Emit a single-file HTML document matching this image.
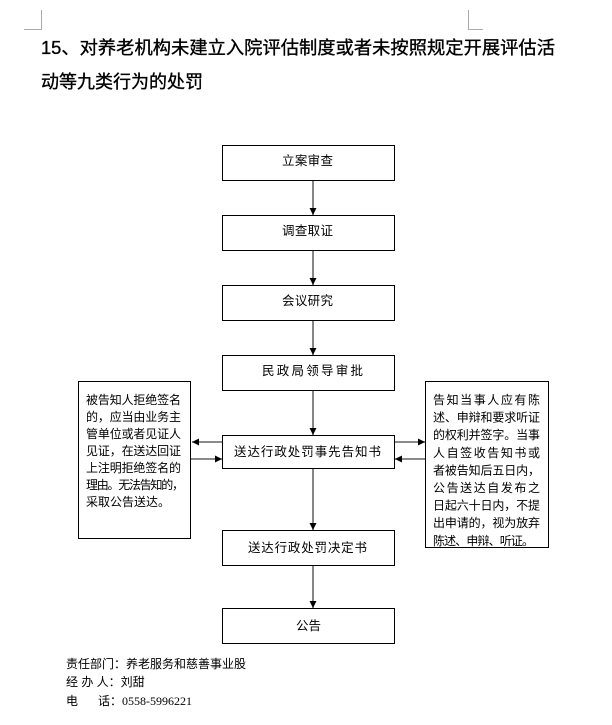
<!DOCTYPE html>
<html><head><meta charset="utf-8"><style>
body{margin:0;background:#fff;width:612px;height:725px;overflow:hidden}
svg{display:block}
text{font-family:"Liberation Sans","Noto Sans CJK SC",sans-serif;fill:#000}
</style></head><body>
<svg width="612" height="725" viewBox="0 0 612 725" xmlns="http://www.w3.org/2000/svg">
<defs><marker id="a" markerWidth="8" markerHeight="8" refX="7" refY="4" orient="auto" markerUnits="userSpaceOnUse"><path d="M0,0.5 L7,4 L0,7.5 z" fill="#000"/></marker></defs>
<g stroke="#aaa" stroke-width="1" fill="none">
<path d="M41.5,10 V29.5 H24"/><path d="M468.5,10 V29.5 H483"/>
</g>
<g font-size="18" stroke="#000" stroke-width="0.35">
<text x="41" y="54" textLength="514" lengthAdjust="spacingAndGlyphs">15、对养老机构未建立入院评估制度或者未按照规定开展评估活</text>
<text x="41" y="88">动等九类行为的处罚</text>
</g>
<g fill="none" stroke="#000" stroke-width="1">
<rect x="222.5" y="145.5" width="172" height="35"/>
<rect x="222.5" y="215.5" width="172" height="35"/>
<rect x="222.5" y="285.5" width="172" height="35"/>
<rect x="222.5" y="355.5" width="172" height="35"/>
<rect x="222.5" y="435.5" width="172" height="33"/>
<rect x="222.5" y="530.5" width="172" height="35"/>
<rect x="222.5" y="608.5" width="172" height="35"/>
<rect x="78.5" y="381.5" width="112" height="157"/>
<rect x="425.5" y="381.5" width="123" height="166"/>
</g>
<g stroke="#444" stroke-width="1.3" marker-end="url(#a)">
<line x1="313" y1="181" x2="313" y2="215"/>
<line x1="313" y1="251" x2="313" y2="285"/>
<line x1="313" y1="321" x2="313" y2="355"/>
<line x1="313" y1="391" x2="313" y2="435"/>
<line x1="313" y1="469" x2="313" y2="530"/>
<line x1="313" y1="566" x2="313" y2="608"/>
<line x1="222" y1="442" x2="192" y2="442"/>
<line x1="191" y1="459" x2="222" y2="459"/>
<line x1="395" y1="442" x2="425" y2="442"/>
<line x1="425" y1="459" x2="395" y2="459"/>
</g>
<g font-size="12.5">
<text x="282" y="165" textLength="51">立案审查</text>
<text x="282" y="235" textLength="51">调查取证</text>
<text x="282" y="305" textLength="51">会议研究</text>
<text x="262" y="375" textLength="101">民政局领导审批</text>
<text x="234" y="456" textLength="147">送达行政处罚事先告知书</text>
<text x="248" y="552" textLength="119">送达行政处罚决定书</text>
<text x="296" y="630" textLength="25">公告</text>
</g>
<g font-size="12">
<text x="86" y="404" textLength="95">被告知人拒绝签名</text>
<text x="86" y="421" textLength="95">的，应当由业务主</text>
<text x="86" y="438" textLength="95">管单位或者见证人</text>
<text x="86" y="455" textLength="95">见证，在送达回证</text>
<text x="86" y="472" textLength="95">上注明拒绝签名的</text>
<text x="86" y="489" textLength="98">理由。无法告知的，</text>
<text x="86" y="506">采取公告送达。</text>
<text x="433" y="404" textLength="107">告知当事人应有陈</text>
<text x="433" y="421.6" textLength="107">述、申辩和要求听证</text>
<text x="433" y="439.2" textLength="107">的权利并签字。当事</text>
<text x="433" y="456.8" textLength="107">人自签收告知书或</text>
<text x="433" y="474.4" textLength="107">者被告知后五日内，</text>
<text x="433" y="492" textLength="107">公告送达自发布之</text>
<text x="433" y="509.6" textLength="107">日起六十日内，不提</text>
<text x="433" y="527.2" textLength="107">出申请的，视为放弃</text>
<text x="433" y="544.8" textLength="101">陈述、申辩、听证。</text>
</g>
<g font-size="12">
<text x="66" y="668">责任部门：养老服务和慈善事业股</text>
<text x="66" y="686">经 办 人：刘甜</text>
<text x="66" y="705">电 <tspan x="98">话：</tspan><tspan font-family="Liberation Serif">0558-5996221</tspan></text>
</g>
</svg>
</body></html>
